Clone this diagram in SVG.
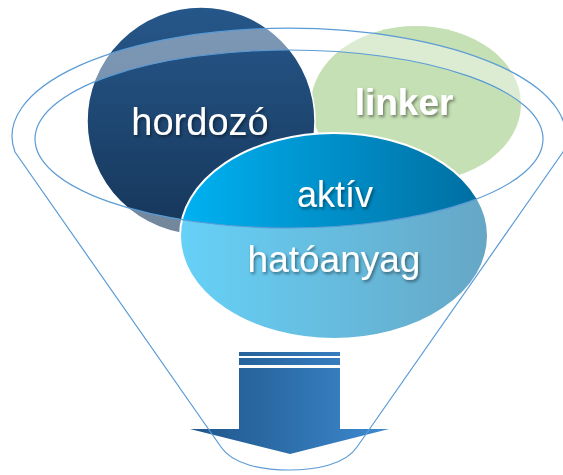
<svg xmlns="http://www.w3.org/2000/svg" width="563" height="475" viewBox="0 0 563 475">
  <defs>
    <linearGradient id="gDark" x1="0" y1="0" x2="0" y2="1">
      <stop offset="0" stop-color="#26578a"/>
      <stop offset="1" stop-color="#16365a"/>
    </linearGradient>
    <linearGradient id="gBlue" gradientUnits="userSpaceOnUse" x1="180" y1="0" x2="488" y2="0">
      <stop offset="0" stop-color="#00b2f2"/>
      <stop offset="1" stop-color="#006c9f"/>
    </linearGradient>
    <linearGradient id="gArrow" gradientUnits="userSpaceOnUse" x1="190" y1="0" x2="389" y2="0">
      <stop offset="0" stop-color="#1f5589"/>
      <stop offset="1" stop-color="#3d8ad0"/>
    </linearGradient>
    <filter id="shadow" x="-10%" y="-20%" width="130%" height="160%">
      <feDropShadow dx="1.5" dy="2" stdDeviation="1.5" flood-color="#000" flood-opacity="0.45"/>
    </filter>
    <style>
      .lbl { font-family: "Liberation Sans", Arial, sans-serif; fill: #ffffff; text-anchor: middle; filter: url(#shadow); }
      .rim { fill: none; stroke: #5b9bd5; stroke-width: 1.2; }
    </style>
  </defs>

  <g id="linker">
    <ellipse cx="416" cy="104" rx="105" ry="78" fill="#c5e0b4"/>
  </g>
  <g id="hordozo">
    <circle cx="201" cy="121" r="114" fill="url(#gDark)" stroke="#ffffff" stroke-width="1.5"/>
  </g>
  <g id="hatoanyag">
    <ellipse cx="334" cy="236" rx="154" ry="103" fill="url(#gBlue)" stroke="#ffffff" stroke-width="2"/>
  </g>

  <g id="funnel">
    <path fill="#ffffff" fill-opacity="0.4" fill-rule="evenodd"
      d="M15,152 A277,108 0 1 1 563,152 L357,447 C345,465 315,470 289,470 C263,470 233,465 221,447 Z
         M35,139 A254,89 0 1 0 543,139 A254,89 0 1 0 35,139 Z"/>
  </g>

  <g id="arrow">
    <rect x="239" y="352" width="101" height="4" fill="url(#gArrow)"/>
    <rect x="239" y="358" width="101" height="7" fill="url(#gArrow)"/>
    <path d="M239,368 H340 V429 H389 L290,454 L190,429 H239 Z" fill="url(#gArrow)"/>
  </g>

  <g id="connectors">
    <path class="rim" d="M15,152 A277,108 0 1 1 563,152 L357,447 C345,465 315,470 289,470 C263,470 233,465 221,447 Z"/>
    <ellipse class="rim" cx="289" cy="139" rx="254" ry="89"/>
  </g>

  <g id="labels">
    <text class="lbl" x="200" y="135" font-size="38">hordozó</text>
    <text class="lbl" x="404" y="115" font-size="37" font-weight="bold">linker</text>
    <text class="lbl" x="335" y="207" font-size="36">aktív</text>
    <text class="lbl" x="334" y="272" font-size="37">hatóanyag</text>
  </g>
</svg>
